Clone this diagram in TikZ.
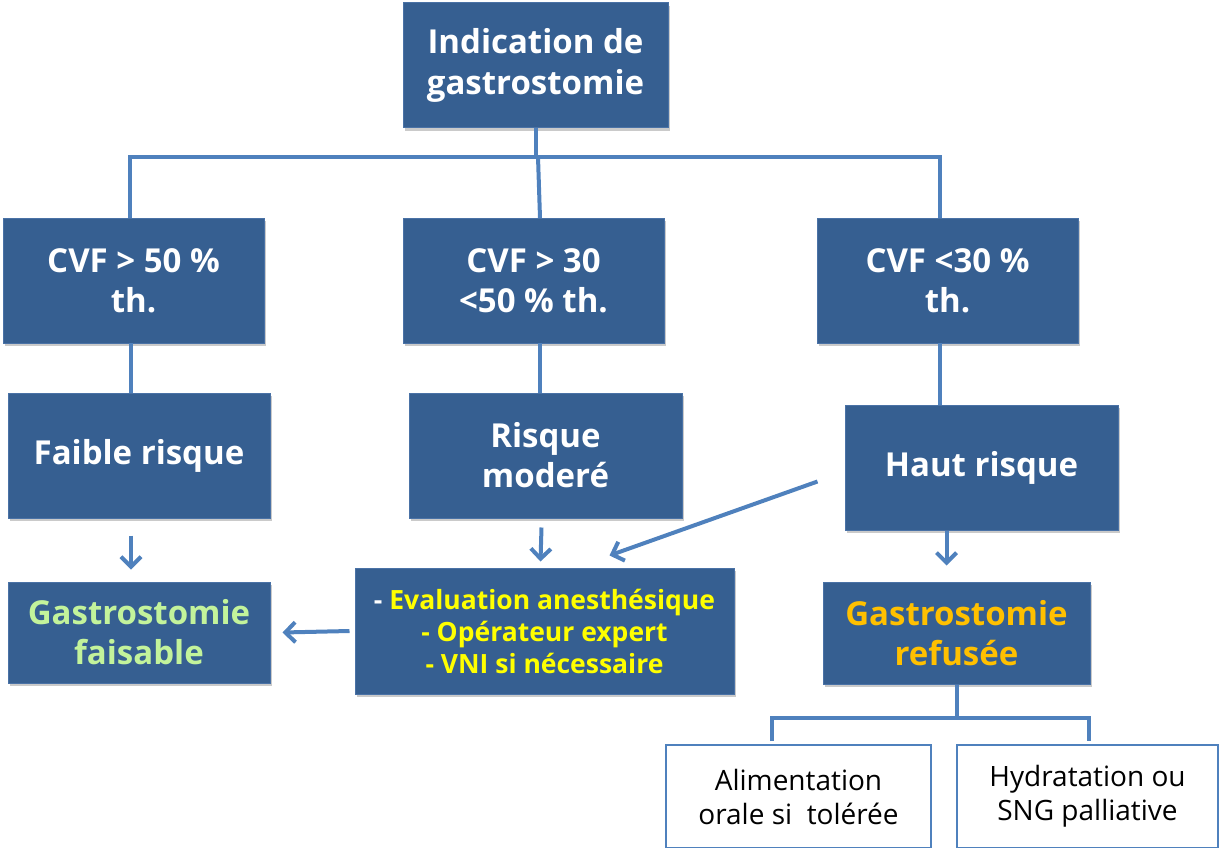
\documentclass[tikz,border=0pt]{standalone}
\usepackage{fontspec}
\setmainfont{Open Sans}
\usetikzlibrary{arrows.meta,shadows,calc}
\definecolor{boxblue}{HTML}{365F91}
\definecolor{boxedge}{HTML}{4A72A6}
\definecolor{lineblue}{HTML}{4F81BD}
\definecolor{lgreen}{HTML}{C3F39B}
\definecolor{yel}{HTML}{FFFF00}
\definecolor{orng}{HTML}{FFC000}
\tikzset{
  bluebox/.style={draw=boxedge, line width=1pt, fill=boxblue, inner sep=0pt, align=center,
    text=white, font=\bfseries,
    drop shadow={shadow xshift=2pt, shadow yshift=-3pt, opacity=0.35, fill=black!60}},
  whitebox/.style={draw=lineblue, line width=2pt, fill=white, inner sep=0pt, align=center,
    text=black, font=\fontsize{28}{34}\selectfont},
  conn/.style={draw=lineblue, line width=4pt},
  arr/.style={draw=lineblue, line width=4pt, -{Straight Barb[length=10pt,width=20pt,line width=4pt]}},
  big/.style={font=\bfseries\fontsize{33}{41}\selectfont},
  mid/.style={font=\bfseries\fontsize{33}{40}\selectfont},
  small/.style={font=\bfseries\fontsize{26.5}{32}\selectfont}
}
\begin{document}
\begin{tikzpicture}[x=1pt,y=-1pt]
\useasboundingbox (0,0) rectangle (1221,848);
% top
\node[bluebox,big,minimum width=265pt,minimum height=125pt] (top) at (535.5,65.5) {Indication de\\gastrostomie};
% row 2
\node[bluebox,mid,minimum width=261pt,minimum height=125pt] (c1) at (133.5,280.5) {CVF > 50 \%\\th.};
\node[bluebox,mid,minimum width=261pt,minimum height=125pt] (c2) at (533.5,280.5) {CVF > 30\\<50 \% th.};
\node[bluebox,mid,minimum width=261pt,minimum height=125pt] (c3) at (947.5,280.5) {CVF <30 \%\\th.};
% row 3
\node[bluebox,mid,minimum width=262pt,minimum height=125pt] (f1) at (139,455.5) {Faible risque};
\node[bluebox,mid,minimum width=273pt,minimum height=125pt] (f2) at (545.5,455.5) {Risque\\moderé};
\node[bluebox,mid,minimum width=273pt,minimum height=125pt] (f3) at (981.5,467.5) {Haut risque};
% row 4
\node[bluebox,mid,minimum width=262pt,minimum height=101pt,text=lgreen] (g1) at (139,632.5) {Gastrostomie\\faisable};
\node[bluebox,small,minimum width=379pt,minimum height=126pt,text=yel] (ev) at (544.5,631) {\textcolor{white}{-} Evaluation anesthésique\\- Opérateur expert\\- VNI si nécessaire};
\node[bluebox,mid,minimum width=267pt,minimum height=102pt,text=orng] (r3) at (956.5,633) {Gastrostomie\\refusée};
% bottom white boxes
\node[whitebox,minimum width=265pt,minimum height=103pt] (w1) at (798.5,796.5) {Alimentation\\orale si~ tolérée};
\node[whitebox,minimum width=261pt,minimum height=103pt] (w2) at (1087.5,796.5) {Hydratation ou\\SNG palliative};
% bus top
\coordinate (bl) at (130,157);
\coordinate (br) at (940,157);
\draw[conn] (536,128) -- (536,157);
\draw[conn] (bl |- c1.north) -- (bl) -- (br) -- (br |- c3.north);
\draw[conn] (538,157) -- (540,218);
% row 2 to row 3
\draw[conn] (131,343) -- (131,393);
\draw[conn] (540,343) -- (540,393);
\draw[conn] (940,343) -- (940,405);
% arrows
\draw[arr] ([xshift=-8pt,yshift=-17pt]f1.south) -- ([xshift=-8pt,yshift=12pt]g1.north);
\draw[arr] ([xshift=-4pt,yshift=-9pt]f2.south) -- ([xshift=-4pt,yshift=6pt]ev.north);
\draw[arr] ([xshift=-35pt]f3.south) -- ([xshift=-10pt,yshift=16pt]r3.north);
\draw[arr] ($(f3.west)+(-27,14)$) -- ($(ev.north)+(65,-12)$);
\draw[arr] ([xshift=-5pt]ev.west) -- ([xshift=12pt]g1.east);
% bottom bus
\coordinate (b2) at (772,718);
\coordinate (b3) at (1089,718);
\draw[conn] (r3.south) -- (r3.south |- b2);
\draw[conn] ([yshift=3pt]b2 |- w1.north) -- (b2) -- (b3) -- ([yshift=3pt]b3 |- w2.north);
\end{tikzpicture}
\end{document}
